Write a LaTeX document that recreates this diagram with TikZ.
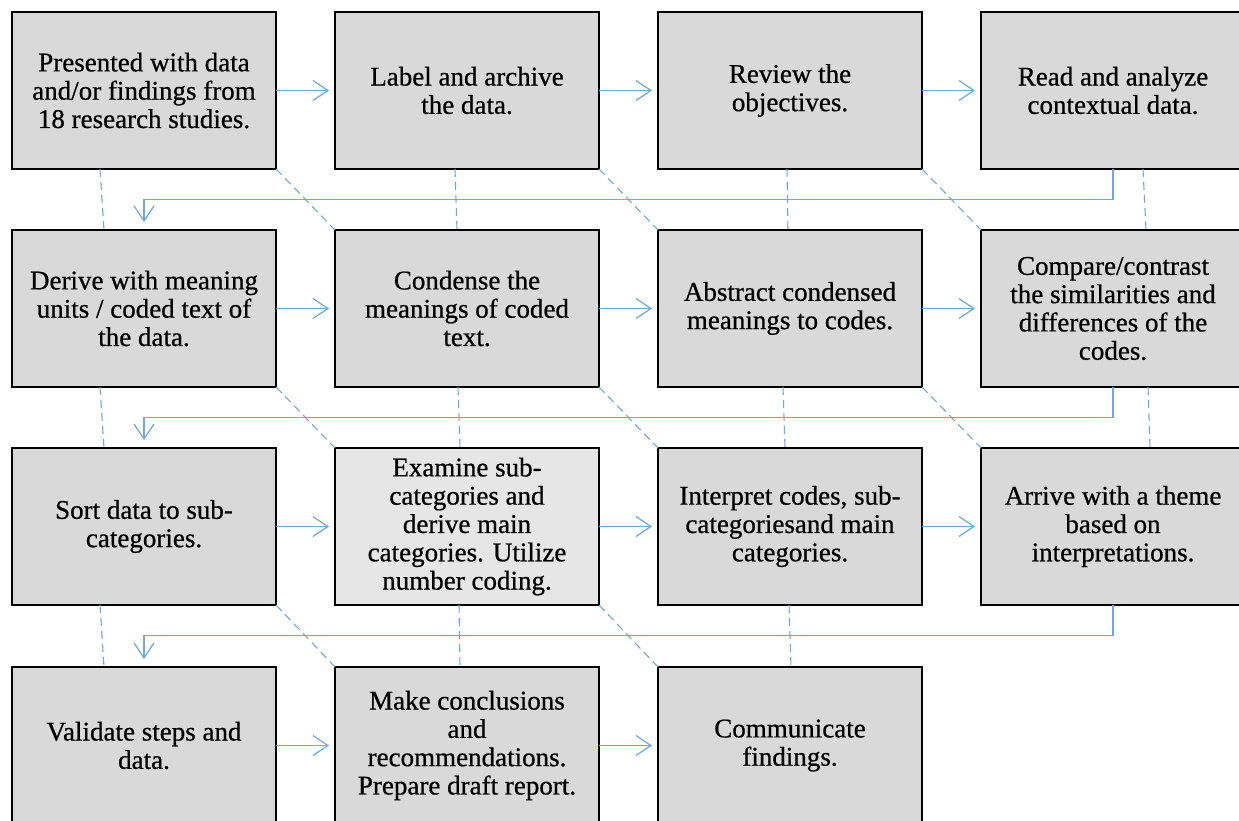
\documentclass[tikz,border=0pt]{standalone}
\usepackage{fontspec}
\setmainfont{Liberation Serif}
\usetikzlibrary{arrows.meta}
\definecolor{boxfill}{HTML}{D9D9D9}
\definecolor{boxlight}{HTML}{E6E6E6}
\definecolor{linkblue}{HTML}{6FA8DC}
\newcommand{\heavytext}{\special{pdf:literal direct 2 Tr 0.18 w}}
\begin{document}
\begin{tikzpicture}[x=1pt,y=-1pt,
  stepbox/.style={draw=black,line width=2.8pt,fill=boxfill,minimum width=264pt,minimum height=157pt,
    inner sep=0pt,outer sep=0pt,align=center,font=\fontsize{27}{28.3}\selectfont,anchor=north west,
    execute at begin node=\heavytext},
  flow/.style={draw=linkblue,line width=1.2pt,-{Straight Barb[length=15pt,width=20pt,line width=1.2pt]},shorten >=6pt},
  dashlink/.style={draw=linkblue,line width=1.1pt,dash pattern=on 8pt off 5pt}]
\clip (0,0) rectangle (1239,821);
\fill[white] (0,0) rectangle (1239,821);
% row 1
\node[stepbox] (b11) at (12,12) {Presented with data\\and/or findings from\\18 research studies.};
\node[stepbox] (b12) at (335,12) {Label and archive\\the data.};
\node[stepbox] (b13) at (658,12) {Review the\\objectives.};
\node[stepbox] (b14) at (981,12) {Read and analyze\\contextual data.};
% row 2
\node[stepbox] (b21) at (12,230) {Derive with meaning\\units / coded text of\\the data.};
\node[stepbox] (b22) at (335,230) {Condense the\\meanings of coded\\text.};
\node[stepbox] (b23) at (658,230) {Abstract condensed\\meanings to codes.};
\node[stepbox] (b24) at (981,230) {Compare/contrast\\the similarities and\\differences of the\\codes.};
% row 3
\node[stepbox] (b31) at (12,448) {Sort data to sub-\\categories.};
\node[stepbox,fill=boxlight] (b32) at (335,448) {Examine sub-\\categories and\\derive main\\categories. Utilize\\number coding.};
\node[stepbox] (b33) at (658,448) {Interpret codes, sub-\\categoriesand main\\categories.};
\node[stepbox] (b34) at (981,448) {Arrive with a theme\\based on\\interpretations.};
% row 4
\node[stepbox] (b41) at (12,667) {Validate steps and\\data.};
\node[stepbox] (b42) at (335,667) {Make conclusions\\and\\recommendations.\\Prepare draft report.};
\node[stepbox] (b43) at (658,667) {Communicate\\findings.};
% horizontal arrows
\draw[flow] (b11.east) -- (b12.west);
\draw[flow] (b12.east) -- (b13.west);
\draw[flow] (b13.east) -- (b14.west);
\draw[flow] (b21.east) -- (b22.west);
\draw[flow] (b22.east) -- (b23.west);
\draw[flow] (b23.east) -- (b24.west);
\draw[flow] (b31.east) -- (b32.west);
\draw[flow] (b32.east) -- (b33.west);
\draw[flow] (b33.east) -- (b34.west);
\draw[flow] (b41.east) -- (b42.west);
\draw[flow] (b42.east) -- (b43.west);
% elbow connectors
\draw[flow,shorten >=8pt] (b14.south) -- ++(0,30.5) -| (b21.north);
\draw[flow,shorten >=8pt] (b24.south) -- ++(0,30.5) -| (b31.north);
\draw[flow,shorten >=8pt] (b34.south) -- ++(0,30.5) -| (b41.north);
% vertical dashed links
\draw[dashlink] ([xshift=-44pt]b11.south) -- ([xshift=-40pt]b21.north);
\draw[dashlink] ([xshift=-12pt]b12.south) -- ([xshift=-10pt]b22.north);
\draw[dashlink] ([xshift=-3pt]b13.south) -- ([xshift=-2pt]b23.north);
\draw[dashlink] ([xshift=30pt]b14.south) -- ([xshift=33pt]b24.north);
\draw[dashlink] ([xshift=-44pt]b21.south) -- ([xshift=-40pt]b31.north);
\draw[dashlink] ([xshift=-9pt]b22.south) -- ([xshift=-7pt]b32.north);
\draw[dashlink] ([xshift=-7pt]b23.south) -- ([xshift=-5pt]b33.north);
\draw[dashlink] ([xshift=35pt]b24.south) -- ([xshift=37pt]b34.north);
\draw[dashlink] ([xshift=-44pt]b31.south) -- ([xshift=-40pt]b41.north);
\draw[dashlink] ([xshift=-8pt]b32.south) -- ([xshift=-7pt]b42.north);
\draw[dashlink] ([xshift=-1pt]b33.south) -- ([xshift=1pt]b43.north);
% diagonal dashed links
\draw[dashlink] (b11.south east) -- (b22.north west);
\draw[dashlink] (b12.south east) -- (b23.north west);
\draw[dashlink] (b13.south east) -- (b24.north west);
\draw[dashlink] (b21.south east) -- (b32.north west);
\draw[dashlink] (b22.south east) -- (b33.north west);
\draw[dashlink] (b23.south east) -- (b34.north west);
\draw[dashlink] (b31.south east) -- (b42.north west);
\draw[dashlink] (b32.south east) -- (b43.north west);
\end{tikzpicture}
\end{document}
